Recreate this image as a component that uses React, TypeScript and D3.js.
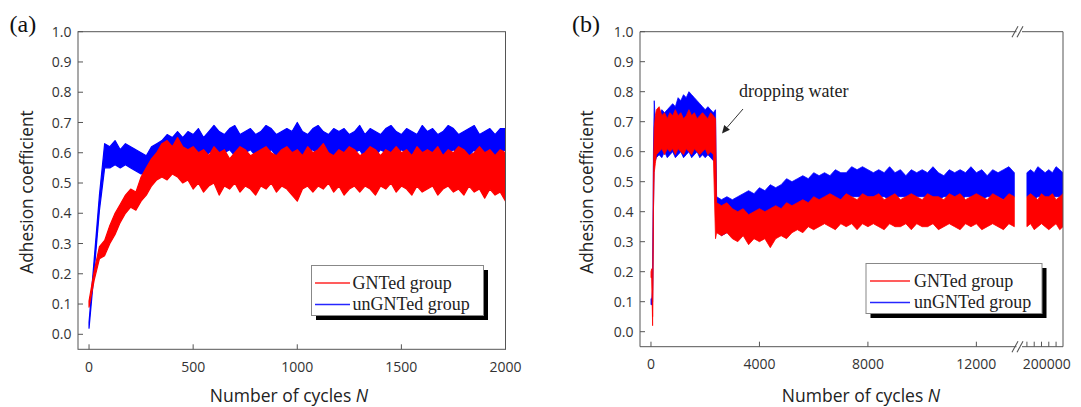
import React from 'react';
import * as d3 from 'd3';

// ---- shared axis values ----
const coefTicks = [0, 0.1, 0.2, 0.3, 0.4, 0.5, 0.6, 0.7, 0.8, 0.9, 1.0];
const legendLabels = ['GNTed group', 'unGNTed group'];
const seriesColors = ['#ff0000', '#0000ff'];

// ---- panel (a): envelope of the noisy trace (local peaks / troughs) ----
const cyclesA = [
  0, 25, 50, 75, 100, 125, 150, 175, 200, 225, 250, 275, 300, 325, 350, 375, 400, 425, 450, 475,
  500, 525, 550, 575, 600, 625, 650, 675, 700, 725, 750, 775, 800, 825, 850, 875, 900, 925, 950, 975,
  1000, 1025, 1050, 1075, 1100, 1125, 1150, 1175, 1200, 1225, 1250, 1275, 1300, 1325, 1350, 1375, 1400, 1425, 1450, 1475,
  1500, 1525, 1550, 1575, 1600, 1625, 1650, 1675, 1700, 1725, 1750, 1775, 1800, 1825, 1850, 1875, 1900, 1925, 1950, 1975,
  2000,
];
const unHiA = [
  0.04, 0.25, 0.46, 0.63, 0.62, 0.64, 0.61, 0.63, 0.62, 0.61, 0.60, 0.59, 0.62, 0.63, 0.64, 0.66, 0.65, 0.67, 0.65, 0.67,
  0.66, 0.68, 0.65, 0.67, 0.69, 0.67, 0.66, 0.68, 0.69, 0.66, 0.67, 0.68, 0.66, 0.67, 0.69, 0.68, 0.66, 0.67, 0.68, 0.67,
  0.70, 0.67, 0.66, 0.68, 0.69, 0.67, 0.66, 0.68, 0.67, 0.68, 0.66, 0.67, 0.69, 0.66, 0.68, 0.67, 0.66, 0.68, 0.69, 0.67,
  0.66, 0.68, 0.67, 0.66, 0.69, 0.67, 0.68, 0.66, 0.67, 0.69, 0.68, 0.66, 0.67, 0.68, 0.69, 0.66, 0.67, 0.68, 0.66, 0.68,
  0.68,
];
const unLoA = [
  0.02, 0.21, 0.41, 0.55, 0.55, 0.56, 0.55, 0.56, 0.55, 0.54, 0.53, 0.53, 0.55, 0.57, 0.58, 0.58, 0.59, 0.60, 0.59, 0.60,
  0.59, 0.60, 0.58, 0.60, 0.61, 0.59, 0.60, 0.61, 0.59, 0.58, 0.60, 0.61, 0.59, 0.60, 0.60, 0.61, 0.59, 0.58, 0.60, 0.59,
  0.60, 0.58, 0.60, 0.61, 0.59, 0.60, 0.58, 0.59, 0.61, 0.60, 0.59, 0.60, 0.61, 0.58, 0.60, 0.59, 0.61, 0.60, 0.58, 0.59,
  0.61, 0.60, 0.59, 0.58, 0.60, 0.61, 0.59, 0.60, 0.58, 0.60, 0.61, 0.59, 0.60, 0.59, 0.61, 0.58, 0.60, 0.61, 0.59, 0.60,
  0.61,
];
const gntHiA = [
  0.11, 0.21, 0.29, 0.31, 0.36, 0.40, 0.43, 0.46, 0.48, 0.47, 0.52, 0.55, 0.58, 0.60, 0.63, 0.64, 0.62, 0.65, 0.62, 0.61,
  0.62, 0.60, 0.61, 0.59, 0.62, 0.60, 0.61, 0.58, 0.60, 0.62, 0.61, 0.59, 0.60, 0.61, 0.62, 0.60, 0.59, 0.61, 0.62, 0.60,
  0.61, 0.59, 0.62, 0.60, 0.61, 0.63, 0.60, 0.59, 0.61, 0.60, 0.62, 0.61, 0.59, 0.60, 0.62, 0.61, 0.59, 0.61, 0.60, 0.62,
  0.60, 0.61, 0.59, 0.62, 0.60, 0.61, 0.60, 0.62, 0.59, 0.61, 0.60, 0.62, 0.61, 0.59, 0.60, 0.62, 0.60, 0.61, 0.59, 0.61,
  0.60,
];
const gntLoA = [
  0.09, 0.18, 0.25, 0.26, 0.30, 0.33, 0.37, 0.40, 0.42, 0.41, 0.44, 0.46, 0.49, 0.51, 0.52, 0.51, 0.53, 0.52, 0.50, 0.51,
  0.48, 0.50, 0.47, 0.49, 0.50, 0.46, 0.49, 0.48, 0.50, 0.47, 0.49, 0.48, 0.46, 0.49, 0.48, 0.50, 0.47, 0.49, 0.48, 0.46,
  0.44, 0.48, 0.49, 0.47, 0.49, 0.48, 0.50, 0.47, 0.49, 0.46, 0.48, 0.49, 0.47, 0.49, 0.48, 0.46, 0.49, 0.48, 0.50, 0.47,
  0.49, 0.48, 0.46, 0.49, 0.47, 0.48, 0.49, 0.46, 0.48, 0.49, 0.47, 0.48, 0.46, 0.49, 0.47, 0.48, 0.45, 0.48, 0.46, 0.47,
  0.44,
];
const xTicksA = [0, 500, 1000, 1500, 2000];

// ---- panel (b): band envelopes, first segment 0..13480 cycles ----
const cyclesB1 = [
  0, 30, 60, 90, 120, 160, 200, 300, 400, 500, 600, 700, 800, 900, 1000, 1100, 1200, 1300, 1400, 1500,
  1600, 1700, 1800, 1900, 2000, 2100, 2200, 2300, 2380, 2420, 2600, 2800, 3000, 3200, 3400, 3600, 3800, 4000, 4200, 4400,
  4600, 4800, 5000, 5200, 5400, 5600, 5800, 6000, 6200, 6400, 6600, 6800, 7000, 7200, 7400, 7600, 7800, 8000, 8200, 8400,
  8600, 8800, 9000, 9200, 9400, 9600, 9800, 10000, 10200, 10400, 10600, 10800, 11000, 11200, 11400, 11600, 11800, 12000, 12200, 12400,
  12600, 12800, 13000, 13200, 13400,
];
const unHiB1 = [
  0.11, 0.11, 0.14, 0.60, 0.77, 0.70, 0.72, 0.72, 0.74, 0.73, 0.74, 0.75, 0.76, 0.75, 0.78, 0.77, 0.79, 0.78, 0.80, 0.79,
  0.78, 0.77, 0.76, 0.75, 0.74, 0.75, 0.74, 0.73, 0.74, 0.45, 0.44, 0.45, 0.44, 0.45, 0.46, 0.47, 0.46, 0.48, 0.47, 0.49,
  0.48, 0.49, 0.51, 0.50, 0.51, 0.52, 0.51, 0.53, 0.52, 0.53, 0.52, 0.54, 0.53, 0.53, 0.55, 0.54, 0.55, 0.54, 0.53, 0.54,
  0.53, 0.55, 0.53, 0.54, 0.52, 0.54, 0.53, 0.54, 0.53, 0.55, 0.53, 0.52, 0.54, 0.53, 0.54, 0.53, 0.55, 0.53, 0.54, 0.52,
  0.54, 0.53, 0.54, 0.55, 0.53,
];
const unLoB1 = [
  0.09, 0.09, 0.10, 0.40, 0.58, 0.57, 0.58, 0.59, 0.58, 0.60, 0.58, 0.59, 0.60, 0.58, 0.59, 0.60, 0.58, 0.59, 0.60, 0.58,
  0.59, 0.60, 0.58, 0.59, 0.58, 0.59, 0.58, 0.57, 0.58, 0.34, 0.32, 0.33, 0.34, 0.35, 0.35, 0.36, 0.36, 0.37, 0.37, 0.38,
  0.38, 0.39, 0.39, 0.40, 0.41, 0.41, 0.42, 0.42, 0.43, 0.43, 0.44, 0.44, 0.44, 0.45, 0.45, 0.45, 0.45, 0.45, 0.45, 0.45,
  0.45, 0.44, 0.45, 0.45, 0.45, 0.44, 0.45, 0.45, 0.45, 0.45, 0.44, 0.45, 0.45, 0.45, 0.44, 0.45, 0.45, 0.45, 0.44, 0.45,
  0.45, 0.45, 0.44, 0.45, 0.45,
];
const gntHiB1 = [
  0.20, 0.21, 0.05, 0.55, 0.68, 0.72, 0.74, 0.75, 0.72, 0.73, 0.71, 0.73, 0.72, 0.74, 0.72, 0.73, 0.71, 0.72, 0.74, 0.72,
  0.73, 0.71, 0.72, 0.73, 0.72, 0.71, 0.73, 0.72, 0.71, 0.43, 0.42, 0.43, 0.41, 0.40, 0.41, 0.39, 0.40, 0.41, 0.40, 0.41,
  0.42, 0.41, 0.43, 0.42, 0.43, 0.44, 0.43, 0.45, 0.44, 0.45, 0.46, 0.45, 0.44, 0.46, 0.45, 0.44, 0.46, 0.45, 0.45, 0.46,
  0.44, 0.45, 0.46, 0.44, 0.45, 0.46, 0.45, 0.44, 0.46, 0.45, 0.45, 0.44, 0.46, 0.45, 0.46, 0.44, 0.45, 0.46, 0.45, 0.44,
  0.46, 0.45, 0.44, 0.46, 0.45,
];
const gntLoB1 = [
  0.18, 0.18, 0.02, 0.40, 0.53, 0.56, 0.59, 0.60, 0.61, 0.59, 0.61, 0.60, 0.61, 0.59, 0.61, 0.60, 0.59, 0.61, 0.60, 0.59,
  0.61, 0.60, 0.59, 0.60, 0.61, 0.59, 0.60, 0.59, 0.31, 0.33, 0.32, 0.33, 0.31, 0.30, 0.32, 0.29, 0.31, 0.30, 0.31, 0.28,
  0.31, 0.32, 0.31, 0.33, 0.34, 0.33, 0.35, 0.34, 0.35, 0.36, 0.35, 0.34, 0.36, 0.35, 0.36, 0.34, 0.36, 0.35, 0.36, 0.35,
  0.34, 0.36, 0.35, 0.35, 0.36, 0.34, 0.36, 0.35, 0.35, 0.36, 0.34, 0.35, 0.36, 0.35, 0.34, 0.36, 0.35, 0.36, 0.34, 0.35,
  0.36, 0.35, 0.34, 0.36, 0.35,
];
// second segment after the axis break
const cyclesB2 = [194000, 195000, 196000, 197000, 198000, 199000, 200000, 201000, 202000, 203000, 203900];
const unHiB2 = [0.53, 0.54, 0.53, 0.55, 0.54, 0.53, 0.54, 0.53, 0.55, 0.54, 0.53];
const unLoB2 = [0.45, 0.45, 0.44, 0.45, 0.45, 0.45, 0.44, 0.45, 0.45, 0.45, 0.45];
const gntHiB2 = [0.45, 0.46, 0.45, 0.44, 0.46, 0.45, 0.45, 0.46, 0.44, 0.45, 0.46];
const gntLoB2 = [0.35, 0.36, 0.34, 0.35, 0.36, 0.35, 0.34, 0.35, 0.36, 0.34, 0.35];
const xTicksB = [0, 4000, 8000, 12000];
const xTicksB2 = [194000, 196000, 198000, 200000, 202000];
const xLabelsB2 = [200000];

const tickFont = "'Open Sans', sans-serif";
const serif = "'Liberation Serif', 'Times New Roman', serif";
const axisColor = '#555';

function YAxis({ y, left, titleX }: any) {
  return (
    <g>
      {coefTicks.map((t) => (
        <g key={t}>
          <line x1={left} x2={left + 5} y1={y(t)} y2={y(t)} stroke={axisColor} />
          <text x={left - 6.5} y={y(t)} dy="0.36em" textAnchor="end" fontFamily={tickFont} fontSize={14} fill="#333">
            {t.toFixed(1)}
          </text>
        </g>
      ))}
      <text
        transform={`translate(${titleX},192) rotate(-90)`}
        textAnchor="middle"
        dy="0.35em"
        fontFamily={tickFont}
        fontSize={17.3}
        fill="#222"
      >
        Adhesion coefficient
      </text>
    </g>
  );
}

function XTitle({ cx }: any) {
  return (
    <text x={cx} y={402} textAnchor="middle" fontFamily={tickFont} fontSize={17.5} fill="#222">
      Number of cycles <tspan fontStyle="italic">N</tspan>
    </text>
  );
}

function Legend({ x, y, w, lineStart, lineEnd, textX, rows }: any) {
  const h = 50;
  return (
    <g>
      <rect x={x + 4.5} y={y + 4.5} width={w} height={h} fill="#000" />
      <rect x={x} y={y} width={w} height={h} fill="#fff" stroke="#888" />
      {legendLabels.map((l, i) => (
        <g key={l}>
          <line
            x1={x + lineStart}
            x2={x + lineEnd}
            y1={rows[i] - 5.5}
            y2={rows[i] - 5.5}
            stroke={seriesColors[i]}
            strokeWidth={1.3}
            strokeOpacity={0.85}
          />
          <text x={x + textX} y={rows[i]} fontFamily={serif} fontSize={18} fill="#222">
            {l}
          </text>
        </g>
      ))}
    </g>
  );
}

function PanelA() {
  const left = 78, right = 505.5, top = 31.7, bottom = 349.3;
  const x = d3.scaleLinear().domain([-53, 2000]).range([left, right]);
  const y = d3.scaleLinear().domain([0, 1]).range([334.3, top]);
  const band = (hi: number[], lo: number[]) =>
    d3
      .area<number>()
      .x((c) => x(c))
      .y0((_, i) => y(lo[i]))
      .y1((_, i) => y(hi[i]))(cyclesA) as string;
  return (
    <g>
      <defs>
        <clipPath id="clipA">
          <rect x={left} y={top} width={right - left} height={bottom - top} />
        </clipPath>
      </defs>
      <g clipPath="url(#clipA)" strokeWidth={1.2} strokeLinejoin="round">
        <path d={band(unHiA, unLoA)} fill={seriesColors[1]} stroke={seriesColors[1]} />
        <path d={band(gntHiA, gntLoA)} fill={seriesColors[0]} stroke={seriesColors[0]} />
      </g>
      <rect x={left} y={top} width={right - left} height={bottom - top} fill="none" stroke={axisColor} />
      {xTicksA.map((t) => (
        <g key={t}>
          <line x1={x(t)} x2={x(t)} y1={bottom} y2={bottom - 5} stroke={axisColor} />
          <text x={x(t)} y={372} textAnchor="middle" fontFamily={tickFont} fontSize={14} fill="#333">
            {t}
          </text>
        </g>
      ))}
      <YAxis y={y} left={left} titleX={27} />
      <XTitle cx={289} />
      <Legend x={311.5} y={265.5} w={172} lineStart={3.5} lineEnd={38.5} textX={41} rows={[288.5, 310]} />
      <text x={9.5} y={32} fontFamily={serif} fontSize={24} fill="#111">(a)</text>
    </g>
  );
}

function PanelB() {
  const left = 640, right = 1063, top = 31.7, bottom = 346.7;
  const brk1 = 1016.5, brk2 = 1024;
  const x1 = d3.scaleLinear().domain([-405, 13480]).range([left, brk1]);
  const x2 = d3.scaleLinear().domain([193200, 203900]).range([brk2, right]);
  const y = d3.scaleLinear().domain([0, 1]).range([331.7, top]);
  const band = (xs: any, cyc: number[], hi: number[], lo: number[]) =>
    d3
      .area<number>()
      .x((c) => xs(c))
      .y0((_, i) => y(lo[i]))
      .y1((_, i) => y(hi[i]))(cyc) as string;
  const slash = (cx: number, cy: number) => (
    <g stroke={axisColor} strokeWidth={1.1}>
      <line x1={cx - 5} y1={cy + 5.5} x2={cx + 1} y2={cy - 5.5} />
      <line x1={cx} y1={cy + 5.5} x2={cx + 6} y2={cy - 5.5} />
    </g>
  );
  return (
    <g>
      <defs>
        <clipPath id="clipB">
          <rect x={left} y={top} width={right - left} height={bottom - top} />
        </clipPath>
      </defs>
      <g clipPath="url(#clipB)" strokeWidth={0.8}>
        <path d={band(x1, cyclesB1, unHiB1, unLoB1)} fill={seriesColors[1]} stroke={seriesColors[1]} />
        <path d={band(x2, cyclesB2, unHiB2, unLoB2)} fill={seriesColors[1]} stroke={seriesColors[1]} />
        <path d={band(x1, cyclesB1, gntHiB1, gntLoB1)} fill={seriesColors[0]} stroke={seriesColors[0]} />
        <path d={band(x2, cyclesB2, gntHiB2, gntLoB2)} fill={seriesColors[0]} stroke={seriesColors[0]} />
      </g>
      {/* frame with break */}
      <g stroke={axisColor} fill="none">
        <line x1={left} x2={left} y1={top} y2={bottom} />
        <line x1={right} x2={right} y1={top} y2={bottom} />
        <line x1={left} x2={brk1} y1={top} y2={top} />
        <line x1={brk2 - 2} x2={right} y1={top} y2={top} />
        <line x1={left} x2={brk1} y1={bottom} y2={bottom} />
        <line x1={brk2 - 2} x2={right} y1={bottom} y2={bottom} />
      </g>
      {slash(brk1 + 0.5, top)}
      {slash(brk1 + 0.5, bottom)}
      {xTicksB.map((t) => (
        <g key={t}>
          <line x1={x1(t)} x2={x1(t)} y1={bottom} y2={bottom - 5} stroke={axisColor} />
          <text x={x1(t)} y={368.5} textAnchor="middle" fontFamily={tickFont} fontSize={14} fill="#333">
            {t}
          </text>
        </g>
      ))}
      {xTicksB2.map((t) => (
        <line key={t} x1={x2(t)} x2={x2(t)} y1={bottom} y2={bottom - 5} stroke={axisColor} />
      ))}
      {xLabelsB2.map((t) => (
        <text key={t} x={x2(t) - 2} y={368.5} textAnchor="middle" fontFamily={tickFont} fontSize={14} fill="#333">
          {t}
        </text>
      ))}
      <YAxis y={y} left={left} titleX={587} />
      <XTitle cx={861} />
      <Legend x={866} y={263.5} w={176} lineStart={4} lineEnd={44} textX={48} rows={[286.5, 308]} />
      <text x={739} y={96.5} fontFamily={serif} fontSize={18} fill="#222">dropping water</text>
      <line x1={743} y1={109} x2={727} y2={127.5} stroke="#333" strokeWidth={1} />
      <path d="M722,133.5 L724.2,124.9 L729.9,129.8 Z" fill="#222" />
      <text x={572} y={32} fontFamily={serif} fontSize={24} fill="#111">(b)</text>
    </g>
  );
}

export default function App() {
  return (
    <svg width={1081} height={407} style={{ display: 'block', position: 'absolute', left: 0, top: 0, background: '#fff' }}>
      <rect width={1081} height={407} fill="#fff" />
      <PanelA />
      <PanelB />
    </svg>
  );
}
